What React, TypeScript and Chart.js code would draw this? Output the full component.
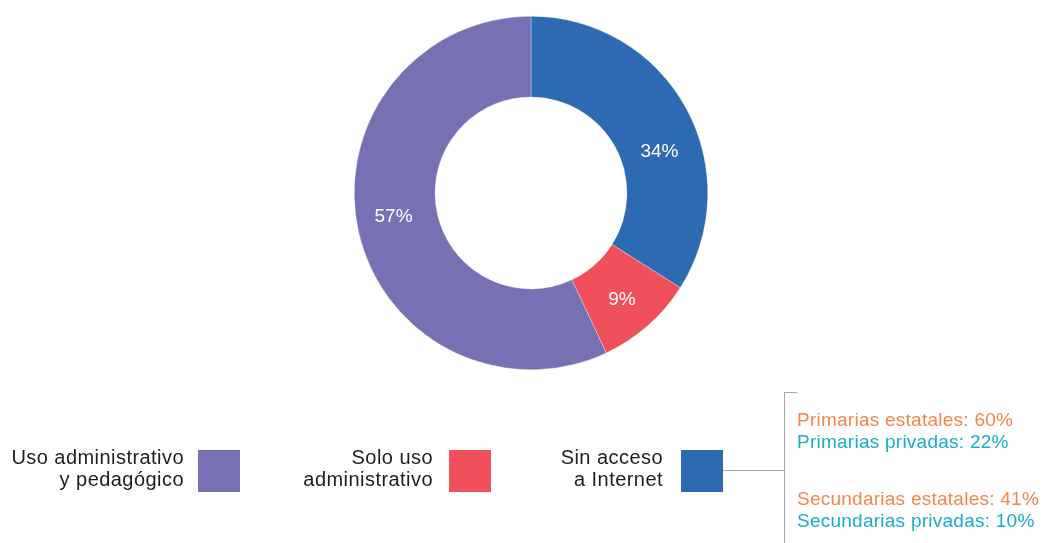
import React, { useEffect, useRef } from "react";
import { Chart, registerables } from "chart.js";

Chart.register(...registerables);

const categories = ["Sin acceso a Internet", "Solo uso administrativo", "Uso administrativo y pedagógico"];
const values = [34, 9, 57];
const colors = ["#2D6AB2", "#F0505B", "#7771B4"];
const legendLines = [["Sin acceso", "a Internet"], ["Solo uso", "administrativo"], ["Uso administrativo", "y pedagógico"]];
const breakdownCategories = ["Primarias estatales", "Primarias privadas", "Secundarias estatales", "Secundarias privadas"];
const breakdownValues = [60, 22, 41, 10];
const breakdownColors = ["#F2874E", "#1AADC7", "#F2874E", "#1AADC7"];

const FONT = "'Liberation Sans', Arial, sans-serif";

const labelPlugin = {
  id: "sliceLabels",
  afterDatasetsDraw(chart: any) {
    const ctx = chart.ctx;
    const meta = chart.getDatasetMeta(0);
    const fracs = [0.585, 0.52, 0.515];
    const offs = [-1, 3, 3];
    ctx.save();
    ctx.fillStyle = "#ffffff";
    ctx.font = `19px ${FONT}`;
    ctx.textAlign = "center";
    ctx.textBaseline = "middle";
    meta.data.forEach((arc: any, i: number) => {
      const p = arc.getProps(["x", "y", "startAngle", "endAngle", "innerRadius", "outerRadius"], true);
      const a = p.startAngle + (p.endAngle - p.startAngle) * fracs[i];
      const r = (p.innerRadius + p.outerRadius) / 2 + offs[i];
      ctx.fillText(values[i] + "%", p.x + Math.cos(a) * r, p.y + Math.sin(a) * r + 1);
    });
    ctx.restore();
  },
};

export default function App() {
  const ref = useRef<HTMLCanvasElement | null>(null);
  useEffect(() => {
    if (!ref.current) return;
    const chart = new Chart(ref.current, {
      type: "doughnut",
      data: {
        labels: categories,
        datasets: [
          {
            data: values,
            backgroundColor: colors,
            borderColor: "rgba(255,255,255,0.6)",
            borderWidth: 0.5,
            hoverOffset: 0,
          },
        ],
      },
      options: {
        responsive: false,
        devicePixelRatio: 1,
        animation: false,
        cutout: "54.3%",
        rotation: 0,
        layout: { padding: { top: 16, bottom: 173, left: 354, right: 341 } },
        plugins: { legend: { display: false }, tooltip: { enabled: false } },
      },
      plugins: [labelPlugin],
    });
    return () => chart.destroy();
  }, []);

  const textColor = "#1e1e1e";
  const legendItems = [
    { idx: 2, textLeft: 0, textWidth: 184, swLeft: 198 },
    { idx: 1, textLeft: 240, textWidth: 193, swLeft: 449 },
    { idx: 0, textLeft: 500, textWidth: 163, swLeft: 681 },
  ];
  const labelStyle: React.CSSProperties = {
    position: "absolute",
    fontFamily: FONT,
    fontSize: 20,
    lineHeight: "22.4px",
    letterSpacing: "0.45px",
    whiteSpace: "nowrap",
  };

  return (
    <div style={{ position: "absolute", left: 0, top: 0, width: 1049, height: 543, background: "#fff", overflow: "hidden" }}>
      <canvas ref={ref} width={1049} height={543} style={{ position: "absolute", left: 0, top: 0 }} />
      {legendItems.map((it) => (
        <React.Fragment key={it.idx}>
          <div style={{ ...labelStyle, left: it.textLeft, top: 445.7, width: it.textWidth, textAlign: "right", color: textColor }}>
            {legendLines[it.idx].map((l, j) => (
              <div key={j}>{l}</div>
            ))}
          </div>
          <div style={{ position: "absolute", left: it.swLeft, top: 450, width: 42, height: 42, background: colors[it.idx] }} />
        </React.Fragment>
      ))}
      <div style={{ position: "absolute", left: 723, top: 470, width: 61, height: 1, background: "#a8a8a8" }} />
      <div style={{ position: "absolute", left: 784, top: 392, width: 1, height: 151, background: "#a8a8a8" }} />
      <div style={{ position: "absolute", left: 784, top: 392, width: 13, height: 1, background: "#a8a8a8" }} />
      {[0, 2].map((g) => (
        <div key={g} style={{ ...labelStyle, fontSize: 19, left: 797, top: g === 0 ? 408.5 : 487.5, letterSpacing: "0.25px" }}>
          {[g, g + 1].map((k) => (
            <div key={k} style={{ color: breakdownColors[k] }}>
              {breakdownCategories[k]}: {breakdownValues[k]}%
            </div>
          ))}
        </div>
      ))}
    </div>
  );
}
